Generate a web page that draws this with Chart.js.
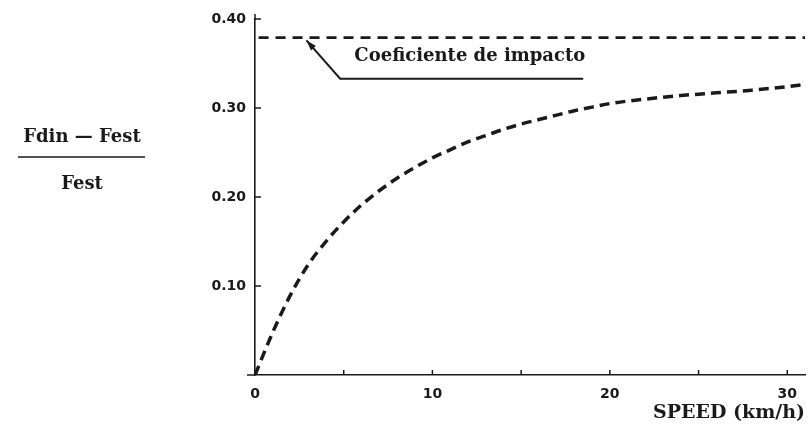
<!DOCTYPE html>
<html>
<head>
<meta charset="utf-8">
<script src="https://cdn.jsdelivr.net/npm/chart.js@4.4.1/dist/chart.umd.min.js"></script>
<style>
html,body{margin:0;padding:0;background:#fff;}
#wrap{width:809px;height:432px;position:relative;}
</style>
</head>
<body>
<div id="wrap"><canvas id="c" width="809" height="432"></canvas></div>
<script>
// ---- data ----
const speed = [0, 1, 2, 3, 4, 5, 6, 7, 8, 9, 10, 11, 12, 13, 14, 15, 16, 17, 18, 19, 20, 22, 24, 26, 28, 30, 30.8];
const ratio = [0, 0.048, 0.090, 0.124, 0.150, 0.172, 0.191, 0.207, 0.221, 0.233, 0.244, 0.253, 0.262, 0.269, 0.276, 0.282, 0.287, 0.292, 0.297, 0.301, 0.305, 0.310, 0.314, 0.317, 0.320, 0.324, 0.326];
const impactX = [0.2, 31];
const impactY = [0.379, 0.379];
const xTicks = [0, 5, 10, 15, 20, 25, 30];
const xTickLabels = ['0', '', '10', '', '20', '', '30'];
const yTicks = [0.1, 0.2, 0.3, 0.4];
const yTickLabels = ['0.10', '0.20', '0.30', '0.40'];
const annotText = 'Coeficiente de impacto';
const arrowX = [2.9, 4.8, 18.5];
const arrowY = [0.376, 0.333, 0.333];
const textPos = [5.6, 0.358];
const yTitleTop = 'Fdin \u2014 Fest';
const yTitleBottom = 'Fest';
const xTitle = 'SPEED (km/h)';

const ink = '#1a1a1a';
const serif = '"DejaVu Serif", "Liberation Serif", serif';

const decor = {
  id: 'decor',
  afterDraw(chart) {
    const {ctx, scales: {x, y}, chartArea: a} = chart;
    ctx.save();
    ctx.strokeStyle = ink; ctx.fillStyle = ink;
    // inward ticks
    ctx.lineWidth = 1.5;
    xTicks.forEach(v => {
      if (v === 0) return;
      const px = x.getPixelForValue(v);
      ctx.beginPath(); ctx.moveTo(px, a.bottom); ctx.lineTo(px, a.bottom - 5); ctx.stroke();
    });
    yTicks.forEach(v => {
      const py = y.getPixelForValue(v);
      ctx.beginPath(); ctx.moveTo(a.left, py); ctx.lineTo(a.left + 6, py); ctx.stroke();
    });
    // axis extensions
    ctx.beginPath(); ctx.moveTo(a.left, a.top); ctx.lineTo(a.left, a.top - 5); ctx.stroke();
    ctx.beginPath(); ctx.moveTo(a.left, a.bottom); ctx.lineTo(a.left - 8, a.bottom); ctx.stroke();
    // arrow annotation
    ctx.lineWidth = 2;
    ctx.beginPath();
    ctx.moveTo(x.getPixelForValue(arrowX[2]), y.getPixelForValue(arrowY[2]));
    ctx.lineTo(x.getPixelForValue(arrowX[1]), y.getPixelForValue(arrowY[1]));
    ctx.lineTo(x.getPixelForValue(arrowX[0]), y.getPixelForValue(arrowY[0]));
    ctx.stroke();
    const tx = x.getPixelForValue(arrowX[0]), ty = y.getPixelForValue(arrowY[0]);
    const bx = x.getPixelForValue(arrowX[1]), by = y.getPixelForValue(arrowY[1]);
    const ang = Math.atan2(ty - by, tx - bx);
    ctx.beginPath();
    ctx.moveTo(tx, ty);
    ctx.lineTo(tx - 11 * Math.cos(ang - 0.3), ty - 11 * Math.sin(ang - 0.3));
    ctx.lineTo(tx - 11 * Math.cos(ang + 0.3), ty - 11 * Math.sin(ang + 0.3));
    ctx.closePath(); ctx.fill();
    // annotation text
    ctx.font = 'bold 18px ' + serif;
    ctx.textBaseline = 'middle'; ctx.textAlign = 'left';
    ctx.fillText(annotText, x.getPixelForValue(textPos[0]), y.getPixelForValue(textPos[1]));
    // y title fraction
    ctx.textAlign = 'center';
    ctx.fillText(yTitleTop, 82, 137);
    ctx.fillText(yTitleBottom, 82, 184);
    ctx.lineWidth = 1.6;
    ctx.beginPath(); ctx.moveTo(18, 157); ctx.lineTo(145, 157); ctx.stroke();
    // x title
    ctx.font = 'bold 19px ' + serif;
    ctx.textAlign = 'right';
    ctx.fillText(xTitle, 805, 413);
    ctx.restore();
  }
};

new Chart(document.getElementById('c'), {
  type: 'line',
  data: {
    datasets: [
      {
        data: speed.map((v, i) => ({x: v, y: ratio[i]})),
        borderColor: ink, borderWidth: 3.5, borderDash: [10, 6],
        pointRadius: 0, tension: 0.4, cubicInterpolationMode: 'monotone', fill: false
      },
      {
        data: impactX.map((v, i) => ({x: v, y: impactY[i]})),
        borderColor: ink, borderWidth: 2.8, borderDash: [10, 7],
        pointRadius: 0, fill: false
      }
    ]
  },
  options: {
    responsive: false, animation: false,
    layout: {padding: {left: 0, right: 4, top: 19, bottom: 0}},
    plugins: {legend: {display: false}, tooltip: {enabled: false}},
    scales: {
      x: {
        type: 'linear', min: 0, max: 31,
        afterBuildTicks(s) { s.ticks = xTicks.map(v => ({value: v})); },
        afterFit(s) { s.height = 57; },
        grid: {display: false},
        border: {display: true, color: ink, width: 1.6},
        ticks: {
          color: ink, padding: 3, maxRotation: 0, autoSkip: false,
          font: {family: '"DejaVu Sans", sans-serif', size: 14, weight: 'bold'},
          callback: (v, i) => xTickLabels[i]
        }
      },
      y: {
        type: 'linear', min: 0, max: 0.4,
        afterBuildTicks(s) { s.ticks = yTicks.map(v => ({value: v})); },
        afterFit(s) { s.width = 255; },
        grid: {display: false},
        border: {display: true, color: ink, width: 1.6},
        ticks: {
          color: ink, padding: 1,
          font: {family: '"DejaVu Sans", sans-serif', size: 14, weight: 'bold'},
          callback: (v, i) => yTickLabels[i]
        }
      }
    }
  },
  plugins: [decor]
});
</script>
</body>
</html>
